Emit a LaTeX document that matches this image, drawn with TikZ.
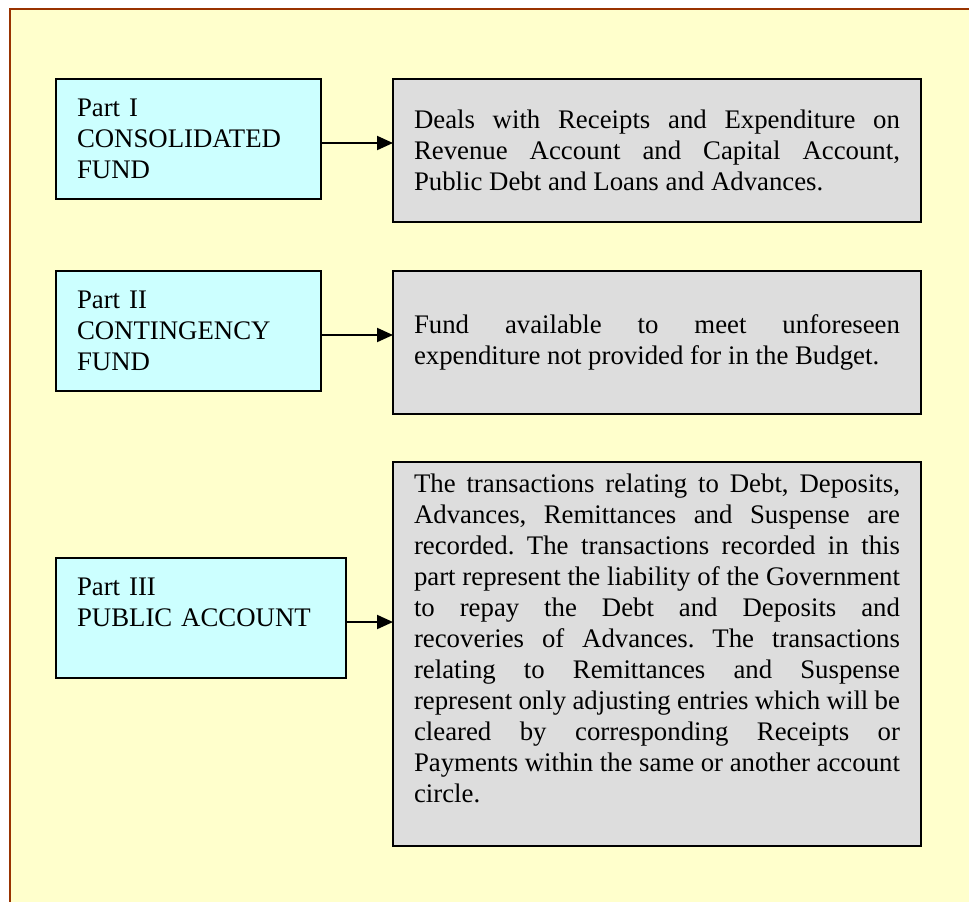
\documentclass[tikz,border=0pt]{standalone}
\usepackage{fontspec}
\setmainfont{Liberation Serif}
\usetikzlibrary{positioning,arrows.meta}
\definecolor{framebrown}{RGB}{153,51,0}
\definecolor{paleyellow}{RGB}{255,255,204}
\definecolor{palecyan}{RGB}{204,255,255}
\definecolor{boxgray}{RGB}{221,221,221}
\newcommand\fundfont{\fontsize{13.4pt}{15.5pt}\selectfont\frenchspacing\tolerance=10000\hyphenpenalty=10000}

\begin{document}
\begin{tikzpicture}[>={Triangle[length=8pt,width=7pt]},line width=1pt,
    part/.style={draw,fill=palecyan,outer sep=0pt,minimum height=60pt,
      inner xsep=10.5pt,inner ysep=0pt,align=left,font=\fundfont},
    note/.style={draw,fill=boxgray,outer sep=0pt,text width=243pt,
      inner xsep=10.5pt,inner ysep=0pt,align=justify,font=\fundfont}]
  \clip (0,0) rectangle (484.5pt,-450.5pt);
  \fill[white] (0,0) rectangle (484.5pt,-450.5pt);
  \draw[framebrown,fill=paleyellow,line width=1.3pt] (5pt,-4.5pt) rectangle (600pt,-600pt);

  \node[part,text width=111.5pt,anchor=north west] (cI) at (28pt,-39.5pt)
    {Part I\\CONSOLIDATED\\FUND};
  \node[note,minimum height=71.5pt] (gI) [right=36pt of cI.north east,anchor=north west]
    {Deals with Receipts and Expenditure on\linebreak
     Revenue Account and Capital Account,\linebreak
     Public Debt and Loans and Advances.};
  \node[part,text width=111.5pt] (cII) [below=36pt of cI.south west,anchor=north west]
    {Part II\\CONTINGENCY\\FUND};
  \node[note,minimum height=71.5pt] (gII) [right=36pt of cII.north east,anchor=north west]
    {Fund available to meet unforeseen\linebreak
     expenditure not provided for in the Budget.};
  \node[note,minimum height=192pt] (gIII) [below=24pt of gII.south west,anchor=north west]
    {The transactions relating to Debt, Deposits,\linebreak
     Advances, Remittances and Suspense are\linebreak
     recorded. The transactions recorded in this\linebreak
     part represent the liability of the Government\linebreak
     to repay the Debt and Deposits and\linebreak
     recoveries of Advances. The transactions\linebreak
     relating to Remittances and Suspense\linebreak
     represent only adjusting entries which will be\linebreak
     cleared by corresponding Receipts or\linebreak
     Payments within the same or another account\linebreak
     circle.\par\mbox{}};
  \node[part,text width=124pt] (cIII) [below=83.5pt of cII.south west,anchor=north west]
    {Part III\\PUBLIC ACCOUNT\\\mbox{}};

  \path[->] ([yshift=-2pt]cI.east) edge ([yshift=-2pt]cI.east -| gI.west)
            ([yshift=-2pt]cII.east) edge ([yshift=-2pt]cII.east -| gII.west)
            ([yshift=-2pt]cIII.east) edge ([yshift=-2pt]cIII.east -| gIII.west);
\end{tikzpicture}
\end{document}
